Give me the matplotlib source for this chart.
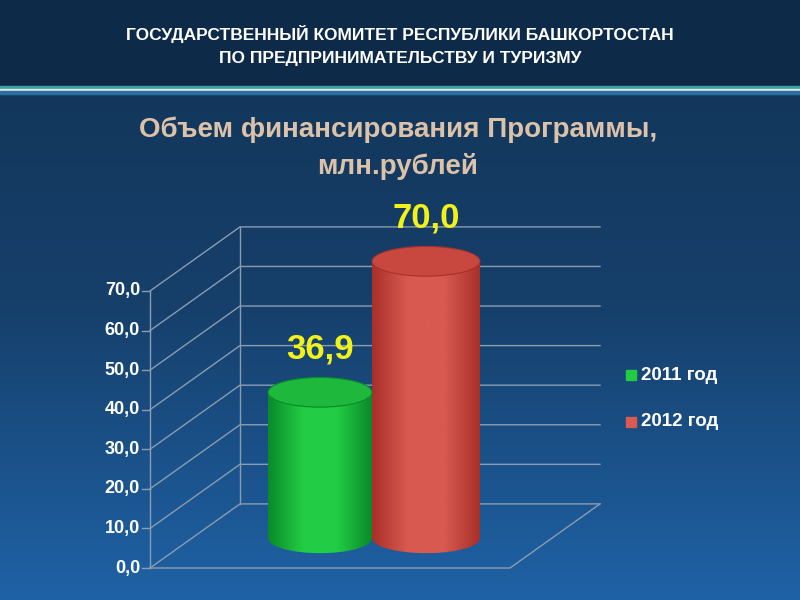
import numpy as np
import matplotlib
matplotlib.use("Agg")
import matplotlib.pyplot as plt
from matplotlib.patches import Rectangle, Ellipse, PathPatch
from matplotlib.path import Path
from matplotlib.colors import LinearSegmentedColormap

categories = ["2011 год", "2012 год"]
values = [36.9, 70.0]
value_labels = ["36,9", "70,0"]
colors_dark = ["#0a8a2a", "#a8302a"]
colors_mid = ["#22cc44", "#d85a50"]
colors_top = ["#1eb83c", "#c84840"]
ticks = [0, 10, 20, 30, 40, 50, 60, 70]
tick_labels = ["0,0", "10,0", "20,0", "30,0", "40,0", "50,0", "60,0", "70,0"]

fig = plt.figure(figsize=(8, 6), dpi=100)
bg = fig.add_axes([0, 0, 1, 1])
bg.set_xlim(0, 800); bg.set_ylim(600, 0); bg.axis("off")
grad = np.linspace(0, 1, 256).reshape(-1, 1)
cm = LinearSegmentedColormap.from_list("bg", ["#123456", "#163f6a", "#1f62a6"])
bg.imshow(grad, cmap=cm, extent=[0, 800, 600, 0], aspect="auto")
bg.add_patch(Rectangle((0, 0), 800, 86, color="#0d2a48"))
bg.add_patch(Rectangle((0, 86), 800, 3, color="#3aa0a0"))
bg.add_patch(Rectangle((0, 89), 800, 2, color="#dfe8e8"))
bg.add_patch(Rectangle((0, 91), 800, 3, color="#2a6fa0"))
bg.text(400, 34, "ГОСУДАРСТВЕННЫЙ КОМИТЕТ РЕСПУБЛИКИ БАШКОРТОСТАН", color="white",
        fontsize=12.5, fontweight="bold", ha="center", va="center", family="Liberation Sans")
bg.text(400, 58, "ПО ПРЕДПРИНИМАТЕЛЬСТВУ И ТУРИЗМУ", color="white",
        fontsize=12.5, fontweight="bold", ha="center", va="center", family="Liberation Sans")
bg.text(398, 130, "Объем финансирования Программы,", color="#dcc2a8",
        fontsize=20, fontweight="bold", ha="center", va="center", family="Liberation Sans")
bg.text(398, 166, "млн.рублей", color="#dcc2a8",
        fontsize=20, fontweight="bold", ha="center", va="center", family="Liberation Sans")

ymax = 95
ppu = 277/70
ax = fig.add_axes([150/800, 1-568/600, 450/800, ymax*ppu/600])
ax.set_xlim(0, 4.5); ax.set_ylim(0, ymax); ax.axis("off")
ddx, ddy = 0.9, 16.2
gc = "#8a9cb0"
for t, lab in zip(ticks, tick_labels):
    ax.plot([0, ddx, 4.5], [t, t+ddy, t+ddy], color=gc, lw=1, clip_on=False)
    ax.plot([-0.08, 0], [t, t], color=gc, lw=1, clip_on=False)
    ax.text(-0.1, t, lab, color="white", fontsize=13, fontweight="bold",
            ha="right", va="center", family="Liberation Sans")
ax.plot([0, 0], [0, 70], color=gc, lw=1, clip_on=False)
ax.plot([ddx, ddx], [ddy, 70+ddy], color=gc, lw=1, clip_on=False)
ax.plot([0, 3.6, 4.5], [0, 0, ddy], color=gc, lw=1, clip_on=False)

shift = 7.5
eh = 7.5
centers = [1.7, 2.76]
widths = [1.04, 1.08]
hgrad = np.linspace(0, 1, 256).reshape(1, -1)
for c, w, v, cd, cmid, ct, lab in zip(centers, widths, values, colors_dark, colors_mid, colors_top, value_labels):
    x0, x1 = c - w/2, c + w/2
    b, top = shift, v + shift
    th = np.linspace(np.pi, 2*np.pi, 50)
    bx = c + w/2*np.cos(th); by = b + eh/2*np.sin(th)
    verts = [(x0, top)] + list(zip(bx, by)) + [(x1, top), (x0, top)]
    path = Path(verts, closed=True)
    cmap = LinearSegmentedColormap.from_list("c", [cd, cmid, cmid, cd])
    im = ax.imshow(hgrad, cmap=cmap, extent=[x0, x1, b-eh, top], aspect="auto", zorder=3)
    pp = PathPatch(path, transform=ax.transData, fc="none", ec="none")
    ax.add_patch(pp)
    im.set_clip_path(pp)
    ax.add_patch(Ellipse((c, top), w, eh, fc=ct, ec=cd, lw=0.8, zorder=4))
    ax.text(c, top + eh/2 + 3, lab, color="#f2f21a", fontsize=25, fontweight="bold",
            ha="center", va="bottom", family="Liberation Sans", zorder=5)
ax.set_ylim(0, ymax); ax.set_xlim(0, 4.5)

for i, (cat, cmid) in enumerate(zip(categories, colors_mid)):
    y = 375 + i*47
    bg.add_patch(Rectangle((626, y-5), 10, 10, color=cmid))
    bg.text(641, y, cat, color="white", fontsize=13.5, fontweight="bold",
            va="center", family="Liberation Sans")

fig.savefig("out.png", dpi=100)
